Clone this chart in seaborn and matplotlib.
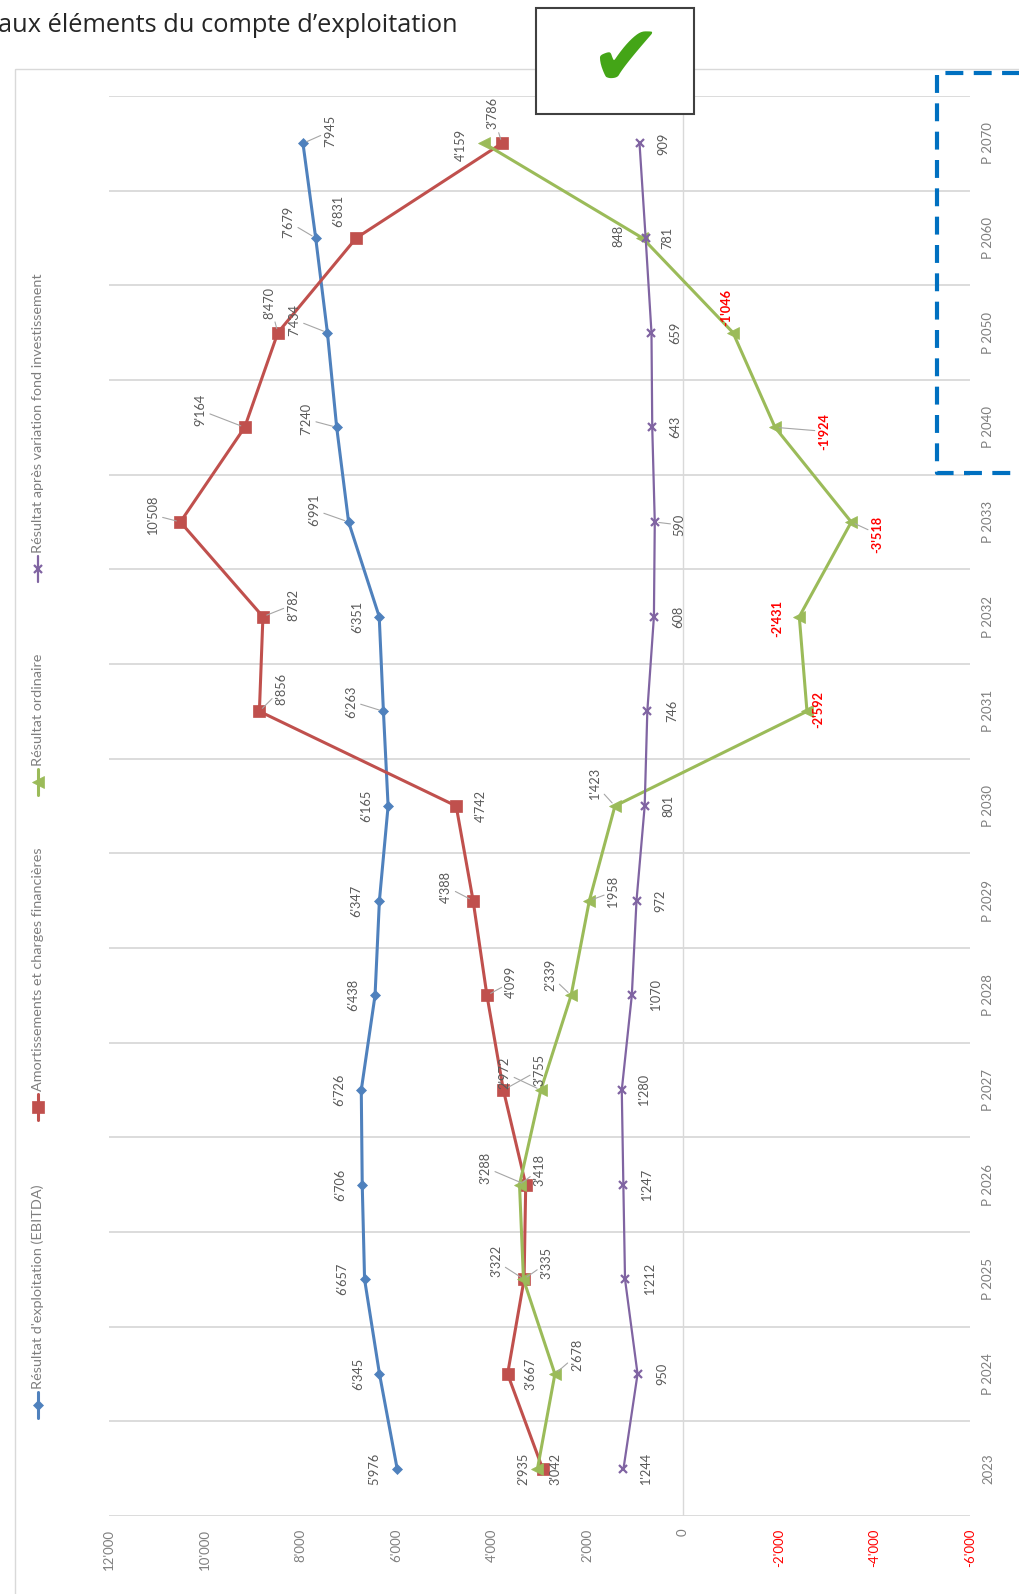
import numpy as np
import pandas as pd
import matplotlib.pyplot as plt
import seaborn as sns
from matplotlib.lines import Line2D
from matplotlib.patches import Rectangle

# -----------------------------
# DATA
# -----------------------------
years = ["2023", "P 2024", "P 2025", "P 2026", "P 2027", "P 2028", "P 2029",
         "P 2030", "P 2031", "P 2032", "P 2033", "P 2040", "P 2050", "P 2060", "P 2070"]

ebitda = [5976, 6345, 6657, 6706, 6726, 6438, 6347, 6165, 6263, 6351, 6991, 7240, 7434, 7679, 7945]
amortissements = [2935, 3667, 3322, 3288, 3755, 4099, 4388, 4742, 8856, 8782, 10508, 9164, 8470, 6831, 3786]
ordinaire = [3042, 2678, 3335, 3418, 2972, 2339, 1958, 1423, -2592, -2431, -3518, -1924, -1046, 848, 4159]
apres_fonds = [1244, 950, 1212, 1247, 1280, 1070, 972, 801, 746, 608, 590, 643, 659, 781, 909]

series_names = [
    "Résultat d'exploitation (EBITDA)",
    "Amortissements et charges financières",
    "Résultat ordinaire",
    "Résultat après variation fond investissement",
]

value_ticks = [12000, 10000, 8000, 6000, 4000, 2000, 0, -2000, -4000, -6000]

# -----------------------------
# STYLE
# -----------------------------
W, H = 1019, 1594
colors = ["#4F81BD", "#C0504D", "#9BBB59", "#8064A2"]
markers = ["D", "s", "<", "x"]
msizes = [5, 8, 8, 6]
lwidths = [2.2, 2.2, 2.2, 1.6]
label_grey = "#595959"
axis_grey = "#7f7f7f"

# label offsets in pixels (dx right, dy down) and leader line flags
offsets = [
    [(-23, 0), (-21, 0), (-22, 0), (-22, 0), (-22, 0), (-22, 0), (-23, 0), (-22, 0),
     (-32, -10), (-22, 0), (-34, -12), (-30, -8), (-33, -13), (-27, -16), (27, -12)],
    [(-19, 0), (23, 0), (-28, -18), (-40, -17), (36, -20), (24, -13), (-27, -14), (25, 0),
     (22, -22), (30, -12), (-27, -7), (-44, -17), (-8, -30), (-18, -27), (-9, -30)],
    [(18, 0), (22, -19), (23, -16), (20, -15), (-36, -17), (-21, -20), (24, -9), (-20, -22),
     (11, -2), (-22, 2), (26, 12), (49, 4), (-7, -25), (-24, -2), (-23, 2)],
    [(23, 0), (25, 0), (25, 0), (24, 0), (22, 0), (24, 0), (24, 0), (24, 0),
     (25, 0), (24, 0), (25, 3), (23, 0), (24, 0), (22, 0), (24, 0)],
]
leaders = [
    [0, 0, 0, 0, 0, 0, 0, 0, 1, 0, 1, 1, 1, 1, 1],
    [0, 0, 1, 1, 1, 1, 1, 0, 1, 1, 1, 1, 1, 0, 1],
    [0, 1, 1, 1, 1, 1, 1, 1, 0, 0, 1, 1, 0, 0, 0],
    [0, 0, 0, 0, 0, 0, 0, 0, 0, 0, 1, 0, 0, 0, 0],
]


def fmt(v):
    s = f"{abs(int(v)):,}".replace(",", "'")
    return "-" + s if v < 0 else s


sns.set_theme(style="white")
plt.rcParams["font.family"] = ["Lato", "DejaVu Sans"]

fig = plt.figure(figsize=(W / 100, H / 100), dpi=100)
fig.patch.set_facecolor("white")

# main plot area in pixels: x 109..970, y 96..1516
ax = fig.add_axes([109 / W, 1 - 1516 / H, (970 - 109) / W, (1516 - 96) / H])
ax.set_facecolor("none")

pos = np.arange(len(years))
all_series = [ebitda, amortissements, ordinaire, apres_fonds]

for k, vals in enumerate(all_series):
    df = pd.DataFrame({"value": vals, "pos": pos})
    sns.lineplot(data=df, x="value", y="pos", orient="y", sort=True,
                 color=colors[k], linewidth=lwidths[k], marker=markers[k],
                 markersize=msizes[k], markeredgecolor=colors[k],
                 markeredgewidth=1.6 if markers[k] == "x" else 0.5,
                 ax=ax, zorder=3)

ax.set_xlim(12000, -6000)
ax.set_ylim(-0.5, len(years) - 0.5)

# grid: horizontal lines between categories, vertical line at 0
for b in np.arange(-0.5, len(years), 1.0):
    ax.axhline(b, color="#d9d9d9", lw=1.3, zorder=1)
ax.axvline(0, color="#d9d9d9", lw=1.0, zorder=1)

for s in ax.spines.values():
    s.set_visible(False)

ax.set_xticks(value_ticks)
ax.set_xticklabels([fmt(v) for v in value_ticks], rotation=90, fontsize=9.5,
                   color=axis_grey, va="top")
for t, v in zip(ax.get_xticklabels(), value_ticks):
    if v < 0:
        t.set_color("#FF0000")
ax.yaxis.tick_right()
ax.set_yticks(pos)
ax.set_yticklabels(years, rotation=90, fontsize=9.5, color=axis_grey, va="center")
ax.tick_params(axis="both", length=0)
ax.tick_params(axis="x", pad=9)
ax.tick_params(axis="y", pad=9)
ax.set_xlabel("")
ax.set_ylabel("")

# data labels
for k, vals in enumerate(all_series):
    for i, v in enumerate(vals):
        dx, dy = offsets[k][i]
        neg = v < 0
        arrow = None
        if leaders[k][i]:
            arrow = dict(arrowstyle="-", color="#a6a6a6", lw=0.8, shrinkA=0, shrinkB=3)
        ax.annotate(fmt(v), xy=(v, i), xytext=(dx, -dy), textcoords="offset pixels",
                    rotation=90, ha="center", va="center", fontsize=9.2,
                    color="#FF0000" if neg else label_grey,
                    fontweight="bold" if neg else "normal",
                    arrowprops=arrow, zorder=4)

# -----------------------------
# OVERLAY (page decorations, pixel coords)
# -----------------------------
ov = fig.add_axes([0, 0, 1, 1], zorder=5)
ov.set_xlim(0, W)
ov.set_ylim(H, 0)
ov.axis("off")
ov.patch.set_alpha(0)

# chart area border
ov.add_patch(Rectangle((15, 69), W + 20, H, fill=False, edgecolor="#d9d9d9", lw=1))

# title (cropped on the left in the original)
ov.text(-2, 25, "aux éléments du compte d’exploitation", fontsize=18.3,
        color="#262626", ha="left", va="center", family=["Open Sans", "DejaVu Sans"])

# legend, rotated
leg_y = [1405, 1107, 782, 569]
for k in range(4):
    y = leg_y[k]
    ov.add_line(Line2D([38, 38], [y - 13, y + 13], color=colors[k], lw=lwidths[k]))
    ov.plot([38], [y], marker=markers[k], color=colors[k], markersize=msizes[k],
            markeredgewidth=1.6 if markers[k] == "x" else 0.5, markeredgecolor=colors[k])
    ov.text(38, y - 16, series_names[k], rotation=90, fontsize=10.4, color=axis_grey,
            ha="center", va="bottom")

# blue dashed frame around the long-term projection
frame = Line2D([W + 5, 937, 937, W + 5], [73, 73, 473, 473], color="#0070C0", lw=3)
frame.set_dashes([4.3, 2.5])
ov.add_line(frame)

# check mark box
ov.add_patch(Rectangle((536, 8), 158, 106, facecolor="white", edgecolor="#404040", lw=1.5))
ov.text(625, 62, "\u2714", fontsize=62, color="#44A517", ha="center", va="center",
        family=["DejaVu Sans"])

fig.savefig("out.png", dpi=100)
